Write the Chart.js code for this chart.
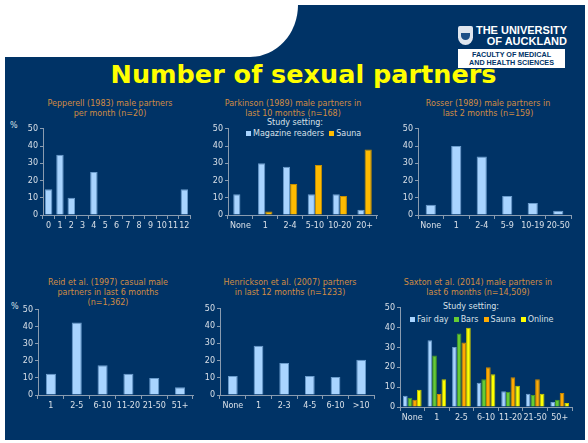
<!DOCTYPE html>
<html lang="en">
<head>
<meta charset="UTF-8">
<title>Number of sexual partners</title>
<style>
  html, body { margin: 0; padding: 0; }
  body { width: 588px; height: 443px; background: #fff; position: relative; overflow: hidden; font-family: "DejaVu Sans", sans-serif; }
  .slide { position: absolute; left: 5px; top: 5px; width: 580px; height: 435px; background: #003366; }
  .corner { position: absolute; left: 5px; top: 5px; width: 293px; height: 52px; background: #fff; border-bottom-right-radius: 48px 52px; }
  .main-title { position: absolute; left: 0; width: 607px; top: 62px; text-align: center; color: #ffff00; font-weight: bold; font-size: 25.5px; line-height: 1; }
  .ct { position: absolute; color: #d08c44; font-size: 8px; line-height: 10px; text-align: center; white-space: nowrap; }
  .pct { position: absolute; color: #d8e0e8; font-size: 8px; }
  .leg { position: absolute; color: #d8e0e8; font-size: 8px; line-height: 10px; white-space: nowrap; }
  .leg span.b { display: inline-block; width: 5px; height: 5px; margin-right: 2px; vertical-align: 0px; }
  .box { position: absolute; }
  .logo1 { position: absolute; color: #fff; font-family: "Liberation Sans", sans-serif; font-weight: bold; font-size: 11px; line-height: 11px; text-align: right; }
  .logo2 { position: absolute; left: 458px; top: 49px; width: 107px; height: 19px; background: #fff; color: #003366; font-family: "Liberation Sans", sans-serif; font-weight: bold; font-size: 7.2px; line-height: 8px; text-align: center; padding-top: 1.5px; box-sizing: border-box; }
  .crest { position: absolute; left: 458px; top: 26px; width: 15px; height: 19px; background: #dfe6ee; border-radius: 2px 2px 8px 8px; }
  .crest i { position: absolute; left: 3px; top: 7px; width: 9px; height: 7px; background: #1d4f86; border-radius: 0 0 5px 5px; }
</style>
<script src="https://cdn.jsdelivr.net/npm/chart.js"></script>
</head>
<body>
<div class="slide"></div>
<div class="corner"></div>
<div class="main-title">Number of sexual partners</div>

<div class="crest"><i></i></div>
<div class="logo1" style="left:470px; top:25px; width:97px;">THE UNIVERSITY<br>OF AUCKLAND</div>
<div class="logo2">FACULTY OF MEDICAL<br>AND HEALTH SCIENCES</div>

<div class="ct" style="left:10px; width:200px; top:99px;">Pepperell (1983) male partners<br>per month (n=20)</div>
<div class="ct" style="left:193px; width:200px; top:99px;">Parkinson (1989) male partners in<br>last 10 months (n=168)</div>
<div class="ct" style="left:388px; width:200px; top:99px;">Rosser (1989) male partners in<br>last 2 months (n=159)</div>
<div class="ct" style="left:8px; width:200px; top:278px;">Reid et al. (1997) casual male<br>partners in last 6 months<br>(n=1,362)</div>
<div class="ct" style="left:190px; width:200px; top:278px;">Henrickson et al. (2007) partners<br>in last 12 months (n=1233)</div>
<div class="ct" style="left:378px; width:200px; top:278px;">Saxton et al. (2014) male partners in<br>last 6 months (n=14,509)</div>

<div class="pct" style="left:10px; top:121px;">%</div>
<div class="pct" style="left:11px; top:302px;">%</div>

<div class="leg" style="left:195px; width:200px; text-align:center; top:118px;">Study setting:</div>
<div class="leg" style="left:246px; top:129px;"><span class="b" style="background:#a8d4ff"></span>Magazine readers&nbsp;&nbsp;<span class="b" style="background:#ffbb00"></span>Sauna</div>
<div class="leg" style="left:371px; width:200px; text-align:center; top:302px;">Study setting:</div>
<div class="leg" style="left:410px; top:315px;"><span class="b" style="background:#a8d4ff"></span>Fair day&nbsp;&nbsp;<span class="b" style="background:#66cc33"></span>Bars&nbsp;&nbsp;<span class="b" style="background:#ffaa00"></span>Sauna&nbsp;&nbsp;<span class="b" style="background:#ffff00"></span>Online</div>

<script>
// data (percent)
const pepCats = ['0', '1', '2', '3', '4', '5', '6', '7', '8', '9', '10', '11', '12'];
const pepVals = [15, 35, 10, 0, 25, 0, 0, 0, 0, 0, 0, 0, 15];

const parkCats = ['None', '1', '2-4', '5-10', '10-20', '20+'];
const parkMagazine = [12, 30, 28, 12, 12, 3];
const parkSauna = [0, 2, 18, 29, 11, 38];

const rosCats = ['None', '1', '2-4', '5-9', '10-19', '20-50'];
const rosVals = [6, 40, 34, 11, 7, 2.5];

const reidCats = ['1', '2-5', '6-10', '11-20', '21-50', '51+'];
const reidVals = [12.5, 42.5, 17.5, 12.5, 10, 4.5];

const henCats = ['None', '1', '2-3', '4-5', '6-10', '>10'];
const henVals = [11, 28.5, 18.5, 11, 10.5, 20.5];

const saxCats = ['None', '1', '2-5', '6-10', '11-20', '21-50', '50+'];
const saxFair = [5.7, 33.7, 30.3, 12.2, 8, 6.7, 2.5];
const saxBars = [4.7, 26, 37, 14, 7.7, 6, 3.7];
const saxSauna = [3.7, 6.5, 32.5, 20, 15, 14, 7];
const saxOnline = [8.7, 14, 40, 16.5, 10.7, 6.7, 2];

const yTicks = [0, 10, 20, 30, 40, 50];

Chart.defaults.font.family = '"DejaVu Sans", sans-serif';
Chart.defaults.font.size = 8;
Chart.defaults.color = '#d8e0e8';

const LBLUE = '#a8d4ff', LBLUE_B = '#6a9ccc';
const axisCol = '#8a9cb0';

// axisX/top/right/bottom = where the plot area should sit on the slide
function makeChart(axisX, top, right, bottom, labels, datasets, catPct) {
    const YW = 26, XH = 22, PT = 6;
    const box = document.createElement('div');
    box.className = 'box';
    box.style.left = (axisX - YW) + 'px';
    box.style.top = (top - PT) + 'px';
    box.style.width = (right - axisX + YW + 2) + 'px';
    box.style.height = (bottom - top + PT + XH) + 'px';
    const cv = document.createElement('canvas');
    box.appendChild(cv);
    document.body.appendChild(box);

    new Chart(cv.getContext('2d'), {
        type: 'bar',
        data: {
            labels: labels,
            datasets: datasets.map(function (d) {
                return {
                    label: d.label,
                    data: d.data,
                    backgroundColor: d.color,
                    borderColor: d.border,
                    borderWidth: 1,
                    borderSkipped: 'bottom',
                    categoryPercentage: catPct,
                    barPercentage: d.barPct || 1
                };
            })
        },
        options: {
            responsive: true,
            maintainAspectRatio: false,
            animation: false,
            layout: { padding: { top: PT, right: 2, left: 0, bottom: 0 } },
            plugins: { legend: { display: false }, tooltip: { enabled: false } },
            scales: {
                x: {
                    grid: { offset: true, drawOnChartArea: false, tickLength: 4, color: axisCol },
                    border: { display: true, color: axisCol, width: 1 },
                    ticks: { autoSkip: false, maxRotation: 0, padding: 2 },
                    afterFit: function (s) { s.height = XH; }
                },
                y: {
                    min: 0, max: 50,
                    afterBuildTicks: function (s) { s.ticks = yTicks.map(v => ({ value: v })); },
                    grid: { drawOnChartArea: false, tickLength: 3, color: axisCol },
                    border: { display: true, color: axisCol, width: 1 },
                    ticks: { padding: 2 },
                    afterFit: function (s) { s.width = YW; }
                }
            }
        }
    });
}

makeChart(43, 128, 190, 215, pepCats,
    [{ label: '%', data: pepVals, color: LBLUE, border: LBLUE_B, barPct: 0.66 }], 1);

makeChart(228, 128, 377, 215, parkCats, [
    { label: 'Magazine readers', data: parkMagazine, color: LBLUE, border: LBLUE_B },
    { label: 'Sauna', data: parkSauna, color: '#ffbb00', border: '#c78f00' }
], 0.58);

makeChart(418, 128, 571, 215, rosCats,
    [{ label: '%', data: rosVals, color: LBLUE, border: LBLUE_B, barPct: 0.4 }], 1);

makeChart(38, 309, 193, 395, reidCats,
    [{ label: '%', data: reidVals, color: LBLUE, border: LBLUE_B, barPct: 0.39 }], 1);

makeChart(220, 308, 374, 395, henCats,
    [{ label: '%', data: henVals, color: LBLUE, border: LBLUE_B, barPct: 0.38 }], 1);

makeChart(400, 307, 572, 407, saxCats, [
    { label: 'Fair day', data: saxFair, color: LBLUE, border: LBLUE_B },
    { label: 'Bars', data: saxBars, color: '#66cc33', border: '#4a9a22' },
    { label: 'Sauna', data: saxSauna, color: '#ffaa00', border: '#c98600' },
    { label: 'Online', data: saxOnline, color: '#ffff00', border: '#c8c800' }
], 0.76);
</script>
</body>
</html>
